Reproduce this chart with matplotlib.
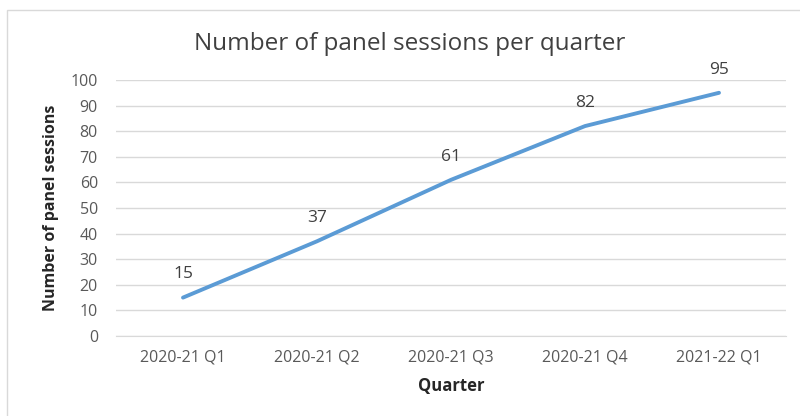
import matplotlib
matplotlib.use("Agg")
import matplotlib.pyplot as plt
from matplotlib.patches import Rectangle

quarters = ["2020-21 Q1", "2020-21 Q2", "2020-21 Q3", "2020-21 Q4", "2021-22 Q1"]
sessions = [15, 37, 61, 82, 95]
yticks = list(range(0, 101, 10))

plt.rcParams['font.family'] = ['Open Sans', 'DejaVu Sans']

fig = plt.figure(figsize=(8, 4.16), dpi=100)
fig.patch.set_facecolor('white')
fig.patches.append(Rectangle((7/800, -0.1), 1.1, (416-10)/416 + 0.1, transform=fig.transFigure,
                             fill=False, edgecolor='#D9D9D9', linewidth=1.0))

ax = fig.add_axes([116/800, (416-336)/416, (786-116)/800, (336-80)/416])
x = list(range(len(quarters)))
ax.plot(x, sessions, color='#5B9BD5', linewidth=2.8, solid_capstyle='round')
for xi, v in zip(x, sessions):
    ax.annotate(str(v), (xi, v), xytext=(0, 11), textcoords='offset points',
                ha='center', va='bottom', fontsize=12.5, color='#404040')

ax.set_xlim(-0.5, len(quarters) - 0.5)
ax.set_ylim(0, 100)
ax.set_yticks(yticks)
ax.set_xticks(x)
ax.set_xticklabels(quarters)
ax.grid(axis='y', color='#D9D9D9', linewidth=1)
ax.set_axisbelow(True)
for s in ['top', 'right', 'left']:
    ax.spines[s].set_visible(False)
ax.spines['bottom'].set_color('#D9D9D9')
ax.tick_params(axis='both', length=0, labelsize=11.5, labelcolor='#595959')
ax.tick_params(axis='x', pad=10)
ax.tick_params(axis='y', pad=13)

ax.set_xlabel("Quarter", fontsize=12, fontweight='bold', color='#262626', labelpad=8)
ax.set_ylabel("Number of panel sessions", fontsize=11.5, fontweight='bold', color='#262626', labelpad=8)
fig.text(410/800, 1 - 44/416, "Number of panel sessions per quarter", ha='center', va='center',
         fontsize=17.5, color='#404040')

fig.savefig("out.png", dpi=100)
